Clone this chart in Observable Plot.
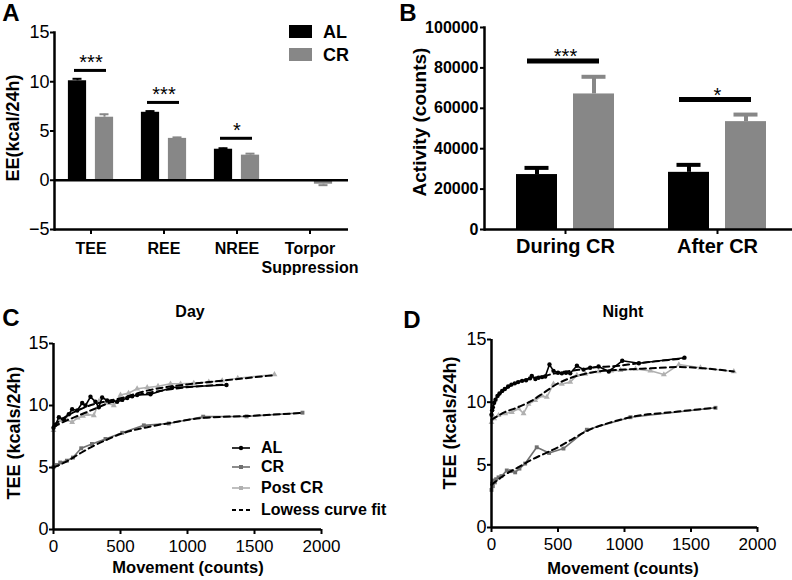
<!DOCTYPE html>
<html><head><meta charset="utf-8">
<script src="https://cdn.jsdelivr.net/npm/d3@7"></script>
<script src="https://cdn.jsdelivr.net/npm/@observablehq/plot@0.6"></script>
<style>
body{margin:0;background:#fff;}
#root{position:relative;width:792px;height:580px;overflow:hidden;font-family:"Liberation Sans",Arial,sans-serif;color:#000;background:#fff;}
.p{position:absolute;}
.lbl{position:absolute;white-space:nowrap;font-weight:bold;line-height:1.15;transform:translate(-50%,-50%);}
.rot{transform:translate(-50%,-50%) rotate(-90deg);}
.leg{position:absolute;white-space:nowrap;font-weight:bold;line-height:1.15;transform:translateY(-50%);}
</style></head><body><div id="root"></div>
<script>
// ---------- Panel A data ----------
const eeCategories = ["TEE", "REE", "NREE", "Torpor Suppression"];
const eeTickLabels = ["TEE", "REE", "NREE", "Torpor\nSuppression"];
const eeAL = [10.1, 6.9, 3.15, null];
const eeALErr = [0.2, 0.12, 0.1, null];
const eeCR = [6.4, 4.25, 2.55, -0.4];
const eeCRErr = [0.3, 0.1, 0.15, 0.1];
const eeSigCats = ["TEE", "REE", "NREE"];
const eeSigY = [11.15, 7.9, 4.26];
const eeSigLabels = ["***", "***", "*"];
const eeYTicks = [-5, 0, 5, 10, 15];

// ---------- Panel B data ----------
const actCategories = ["During CR", "After CR"];
const actAL = [27200, 28300];
const actALErr = [3300, 3700];
const actCR = [67100, 53400];
const actCRErr = [8500, 3500];
const actSigY = [83400, 64300];
const actSigLabels = ["***", "*"];
const actYTicks = [0, 20000, 40000, 60000, 80000, 100000];

// ---------- Panel C (Day) data: [movement, TEE] ----------
const dayAL = [[0,8.2],[15,8.45],[40,9.05],[77,8.9],[114,9.3],[139,9.7],[177,9.6],[214,10.2],[239,10.0],[276,10.7],[313,10.3],[338,9.85],[363,10.65],[400,10.4],[438,10.35],[475,10.3],[513,10.45],[550,10.6],[587,10.75],[624,10.85],[724,10.9],[886,11.45],[1291,11.65]];
const dayCR = [[0,5.02],[25,5.2],[50,5.4],[100,5.55],[145,5.8],[207,6.55],[287,6.9],[388,7.3],[513,7.8],[674,8.4],[860,8.55],[1117,9.1],[1441,9.12],[1858,9.42]];
const dayPost = [[0,8.0],[25,8.5],[52,8.8],[100,8.85],[139,8.65],[180,9.0],[220,9.15],[251,9.3],[301,9.2],[340,10.35],[400,10.2],[450,10.0],[500,10.85],[560,11.0],[624,11.35],[699,11.45],[780,11.55],[873,11.75],[948,11.75],[1047,11.8],[1159,11.9],[1259,12.0],[1375,12.2],[1649,12.5]];
const dayFitAL = [[0,8.4],[100,9.15],[200,9.7],[300,10.1],[400,10.35],[600,10.8],[900,11.35],[1291,11.7]];
const dayFitPost = [[0,8.3],[100,8.8],[200,9.25],[300,9.7],[400,10.15],[500,10.55],[700,11.2],[1000,11.7],[1300,12.05],[1649,12.45]];
const dayFitCR = [[0,5.0],[100,5.5],[200,6.15],[300,6.75],[400,7.25],[500,7.7],[700,8.25],[900,8.65],[1117,9.0],[1441,9.15],[1858,9.4]];

// ---------- Panel D (Night) data ----------
const nightAL = [[0,9.0],[5,9.35],[10,9.6],[20,9.95],[30,10.2],[45,10.5],[60,10.7],[80,10.9],[100,11.05],[125,11.25],[150,11.4],[175,11.5],[200,11.6],[230,11.7],[260,11.75],[290,11.9],[303,12.1],[330,11.85],[353,11.95],[380,12.0],[404,12.05],[436,13.0],[466,12.5],[500,12.35],[529,12.3],[560,12.35],[592,12.3],[642,12.9],[692,12.6],[742,12.75],[805,12.85],[882,12.45],[983,13.3],[1108,13.1],[1451,13.55]];
const nightCR = [[0,3.0],[5,3.5],[10,3.3],[15,3.75],[25,3.6],[35,3.85],[53,4.0],[75,4.1],[115,4.55],[145,4.5],[178,4.4],[210,4.7],[253,5.1],[340,6.4],[433,5.95],[541,6.3],[717,7.8],[1045,8.8],[1684,9.55]];
const nightPost = [[0,8.4],[20,8.7],[53,8.95],[103,9.1],[153,9.2],[203,9.5],[241,9.1],[278,9.85],[329,10.15],[379,10.5],[416,10.4],[466,11.45],[529,11.45],[592,11.6],[642,12.15],[705,12.25],[805,12.45],[900,12.5],[970,12.55],[1083,12.65],[1195,12.5],[1296,12.2],[1409,13.0],[1571,12.75],[1822,12.45]];
const nightFitAL = [[0,9.1],[30,10.15],[60,10.6],[100,11.0],[150,11.35],[200,11.6],[300,11.9],[400,12.1],[500,12.35],[600,12.5],[700,12.65],[800,12.8],[900,12.85],[1100,13.1],[1451,13.5]];
const nightFitPost = [[0,8.6],[100,9.2],[200,9.6],[300,10.1],[400,10.8],[500,11.5],[600,11.95],[700,12.25],[800,12.45],[1000,12.6],[1200,12.7],[1400,12.8],[1822,12.45]];
const nightFitCR = [[0,3.4],[100,4.2],[200,4.8],[300,5.4],[400,5.9],[500,6.4],[600,7.0],[717,7.7],[900,8.4],[1045,8.8],[1400,9.25],[1684,9.55]];

const lineXTicks = [0, 500, 1000, 1500, 2000];
const lineYTicks = [0, 5, 10, 15];

// ---------- colours ----------
const cAL = "#000000", cCRbar = "#878787", cCR = "#707070", cPost = "#b0b0b0";
const font = '"Liberation Sans", Arial, sans-serif';

const root = document.getElementById("root");
function place(node, left, top, w) {
  const d = document.createElement("div");
  d.className = "p"; d.style.left = left + "px"; d.style.top = top + "px"; d.style.width = w + "px";
  d.appendChild(node); root.appendChild(d);
}
function label(text, x, y, size, rot, weight) {
  const d = document.createElement("div");
  d.className = "lbl" + (rot ? " rot" : "");
  d.textContent = text; d.style.left = x + "px"; d.style.top = y + "px"; d.style.fontSize = size + "px";
  if (weight) d.style.fontWeight = weight;
  root.appendChild(d);
}

// ---------- Panel A ----------
const aAL = eeCategories.map((c, i) => ({cat: c, v: eeAL[i], e: eeALErr[i]})).filter(d => d.v != null);
const aCR = eeCategories.map((c, i) => ({cat: c, v: eeCR[i], e: eeCRErr[i]})).filter(d => d.v != null);
const aSig = eeSigCats.map((c, i) => ({cat: c, y: eeSigY[i], t: eeSigLabels[i]}));
const errEnd = d => d.v + Math.sign(d.v) * d.e;

const plotA = Plot.plot({
  width: 400, height: 275, marginLeft: 54, marginRight: 52, marginTop: 32, marginBottom: 46,
  x: {domain: eeCategories, padding: 0, insetLeft: -2, insetRight: 1, label: null},
  y: {domain: [-5, 15], label: null},
  style: {fontFamily: font, background: "transparent", color: "#000"},
  marks: [
    Plot.barY(aAL, {x: "cat", y: "v", fill: cAL, dx: -13.5, insetLeft: 27.4, insetRight: 27.4}),
    Plot.barY(aCR, {x: "cat", y: "v", fill: cCRbar, dx: 13.5, insetLeft: 27.4, insetRight: 27.4}),
    Plot.ruleX(aAL, {x: "cat", y1: "v", y2: errEnd, dx: -13.5, stroke: cAL, strokeWidth: 2}),
    Plot.ruleX(aCR, {x: "cat", y1: "v", y2: errEnd, dx: 13.5, stroke: cCRbar, strokeWidth: 2}),
    Plot.tickY(aAL, {x: "cat", y: errEnd, dx: -13.5, insetLeft: 32, insetRight: 32, stroke: cAL, strokeWidth: 2}),
    Plot.tickY(aCR, {x: "cat", y: errEnd, dx: 13.5, insetLeft: 32, insetRight: 32, stroke: cCRbar, strokeWidth: 2}),
    Plot.tickY(aSig, {x: "cat", y: "y", insetLeft: 20, insetRight: 21, stroke: "#000", strokeWidth: 3}),
    Plot.text(aSig, {x: "cat", y: "y", text: "t", dy: -8, fontSize: 20, fill: "#000"}),
    Plot.ruleY([0], {stroke: "#000", strokeWidth: 2.5}),
    Plot.ruleY([-5], {stroke: "#000", strokeWidth: 2.5}),
    Plot.frame({anchor: "left", stroke: "#000", strokeWidth: 2.5}),
    Plot.axisY({ticks: eeYTicks, tickSize: 4, tickPadding: 1, fontSize: 18, strokeWidth: 2, label: null}),
    Plot.axisX({tickSize: 5, tickPadding: 6, fontSize: 16, fontWeight: "bold", lineHeight: 1.18, strokeWidth: 2, label: null,
      tickFormat: d => eeTickLabels[eeCategories.indexOf(d)]})
  ]
});
place(plotA, 0, 0, 400);

// ---------- Panel B ----------
const bAL = actCategories.map((c, i) => ({cat: c, v: actAL[i], e: actALErr[i]}));
const bCR = actCategories.map((c, i) => ({cat: c, v: actCR[i], e: actCRErr[i]}));
const bSig = actCategories.map((c, i) => ({cat: c, y: actSigY[i], t: actSigLabels[i]}));
const plotB = Plot.plot({
  width: 397, height: 270, marginLeft: 89, marginRight: 0, marginTop: 27, marginBottom: 41,
  x: {domain: actCategories, padding: 0, insetLeft: 5, insetRight: -1, label: null},
  y: {domain: [0, 100000], label: null},
  style: {fontFamily: font, background: "transparent", color: "#000", fontWeight: "bold"},
  marks: [
    Plot.barY(bAL, {x: "cat", y: "v", fill: cAL, dx: -28.5, insetLeft: 55.5, insetRight: 55.5}),
    Plot.barY(bCR, {x: "cat", y: "v", fill: cCRbar, dx: 28.5, insetLeft: 55.5, insetRight: 55.5}),
    Plot.ruleX(bAL, {x: "cat", y1: "v", y2: d => d.v + d.e, dx: -28.5, stroke: cAL, strokeWidth: 4}),
    Plot.ruleX(bCR, {x: "cat", y1: "v", y2: d => d.v + d.e, dx: 28.5, stroke: cCRbar, strokeWidth: 4}),
    Plot.tickY(bAL, {x: "cat", y: d => d.v + d.e, dx: -28.5, insetLeft: 64, insetRight: 64, stroke: cAL, strokeWidth: 4}),
    Plot.tickY(bCR, {x: "cat", y: d => d.v + d.e, dx: 28.5, insetLeft: 64, insetRight: 64, stroke: cCRbar, strokeWidth: 4}),
    Plot.tickY(bSig, {x: "cat", y: "y", insetLeft: 38, insetRight: 42, stroke: "#000", strokeWidth: 5}),
    Plot.text(bSig, {x: "cat", y: "y", text: "t", dy: -4.5, fontSize: 20, fontWeight: "normal", fill: "#000"}),
    Plot.ruleY([0], {stroke: "#000", strokeWidth: 2.5}),
    Plot.frame({anchor: "left", stroke: "#000", strokeWidth: 2.5}),
    Plot.axisY({ticks: actYTicks, tickSize: 4, tickPadding: 2, fontSize: 16, fontWeight: "bold", strokeWidth: 2, label: null, tickFormat: d3.format("d")}),
    Plot.axisX({tickSize: 5, tickPadding: 4, fontSize: 20, fontWeight: "bold", strokeWidth: 2, label: null})
  ]
});
place(plotB, 395, 0, 397);

// ---------- Panels C and D ----------
const px = d => d[0], py = d => d[1];
function linePlot(al, cr, post, fitAL, fitPost, fitCR, w, h, ml, mr, mt, mb) {
  return Plot.plot({
    width: w, height: h, marginLeft: ml, marginRight: mr, marginTop: mt, marginBottom: mb,
    x: {domain: [0, 2000], label: null},
    y: {domain: [0, 15], label: null},
    style: {fontFamily: font, background: "transparent", color: "#000"},
    marks: [
      Plot.line(cr, {x: px, y: py, stroke: cCR, strokeWidth: 1.6}),
      Plot.dot(cr, {x: px, y: py, symbol: "square", r: 2.2, fill: cCR}),
      Plot.line(post, {x: px, y: py, stroke: cPost, strokeWidth: 1.6}),
      Plot.dot(post, {x: px, y: py, symbol: "triangle", r: 2.2, fill: cPost}),
      Plot.line(fitCR, {x: px, y: py, stroke: "#000", strokeWidth: 2, strokeDasharray: "6,4", curve: "monotone-x"}),
      Plot.line(fitPost, {x: px, y: py, stroke: "#000", strokeWidth: 2, strokeDasharray: "6,4", curve: "monotone-x"}),
      Plot.line(fitAL, {x: px, y: py, stroke: "#000", strokeWidth: 2, strokeDasharray: "6,4", curve: "monotone-x"}),
      Plot.line(al, {x: px, y: py, stroke: cAL, strokeWidth: 1.6}),
      Plot.dot(al, {x: px, y: py, r: 2.2, fill: cAL}),
      Plot.ruleY([0], {stroke: "#000", strokeWidth: 2.5}),
      Plot.ruleX([0], {stroke: "#000", strokeWidth: 2.5}),
      Plot.axisY({ticks: lineYTicks, tickSize: 4, tickPadding: 1, fontSize: 18, strokeWidth: 2, label: null}),
      Plot.axisX({ticks: lineXTicks, tickSize: 5, tickPadding: 5, fontSize: 17, strokeWidth: 2, label: null, tickFormat: d3.format("d")})
    ]
  });
}
place(linePlot(dayAL, dayCR, dayPost, dayFitAL, dayFitPost, dayFitCR, 400, 260, 53, 79, 23, 51), 0, 320, 400);
place(linePlot(nightAL, nightCR, nightPost, nightFitAL, nightFitPost, nightFitCR, 397, 260, 96, 35, 19, 53), 395, 320, 397);

// ---------- Text overlays ----------
label("A", 11, 13, 24);
label("B", 408, 13, 24);
label("C", 11, 318, 24);
label("D", 412, 320, 24);
label("EE(kcal/24h)", 13, 128, 18, true);
label("Activity (counts)", 420, 122, 19, true);
label("Day", 190, 312, 16);
label("Night", 623, 312, 16);
label("TEE (kcals/24h)", 14, 433, 18, true);
label("TEE (kcals/24h)", 450, 423, 18, true);
label("Movement (counts)", 188, 567, 16.5);
label("Movement (counts)", 623, 568, 16.5);

// Legend A
[["AL", cAL, 31.5], ["CR", cCRbar, 54.5]].forEach(([t, c, y]) => {
  const sw = document.createElement("div");
  sw.style.cssText = `position:absolute;left:289px;top:${y - 6.5}px;width:23px;height:13px;background:${c}`;
  root.appendChild(sw);
  const l = document.createElement("div");
  l.className = "leg"; l.textContent = t; l.style.left = "323px"; l.style.top = y + "px"; l.style.fontSize = "18px";
  root.appendChild(l);
});

// Legend C
const legC = [["AL", cAL, "circle", 448], ["CR", cCR, "square", 467], ["Post CR", cPost, "triangle", 488], ["Lowess curve fit", "#000", "dash", 510]];
legC.forEach(([t, c, sym, y]) => {
  const ns = "http://www.w3.org/2000/svg";
  const s = document.createElementNS(ns, "svg");
  s.setAttribute("width", 20); s.setAttribute("height", 10);
  s.style.cssText = `position:absolute;left:231px;top:${y - 5}px`;
  const ln = document.createElementNS(ns, "line");
  ln.setAttribute("x1", 1); ln.setAttribute("x2", 19); ln.setAttribute("y1", 5); ln.setAttribute("y2", 5);
  ln.setAttribute("stroke", c); ln.setAttribute("stroke-width", sym === "dash" ? 2 : 1.6);
  if (sym === "dash") ln.setAttribute("stroke-dasharray", "4,3");
  s.appendChild(ln);
  if (sym !== "dash") {
    const m = document.createElementNS(ns, sym === "circle" ? "circle" : "rect");
    if (sym === "circle") { m.setAttribute("cx", 10); m.setAttribute("cy", 5); m.setAttribute("r", 2.2); }
    else { m.setAttribute("x", 8); m.setAttribute("y", 3); m.setAttribute("width", 4); m.setAttribute("height", 4); }
    m.setAttribute("fill", c); s.appendChild(m);
  }
  root.appendChild(s);
  const l = document.createElement("div");
  l.className = "leg"; l.textContent = t; l.style.left = "261px"; l.style.top = y + "px"; l.style.fontSize = "16px";
  root.appendChild(l);
});
</script>
</body></html>
